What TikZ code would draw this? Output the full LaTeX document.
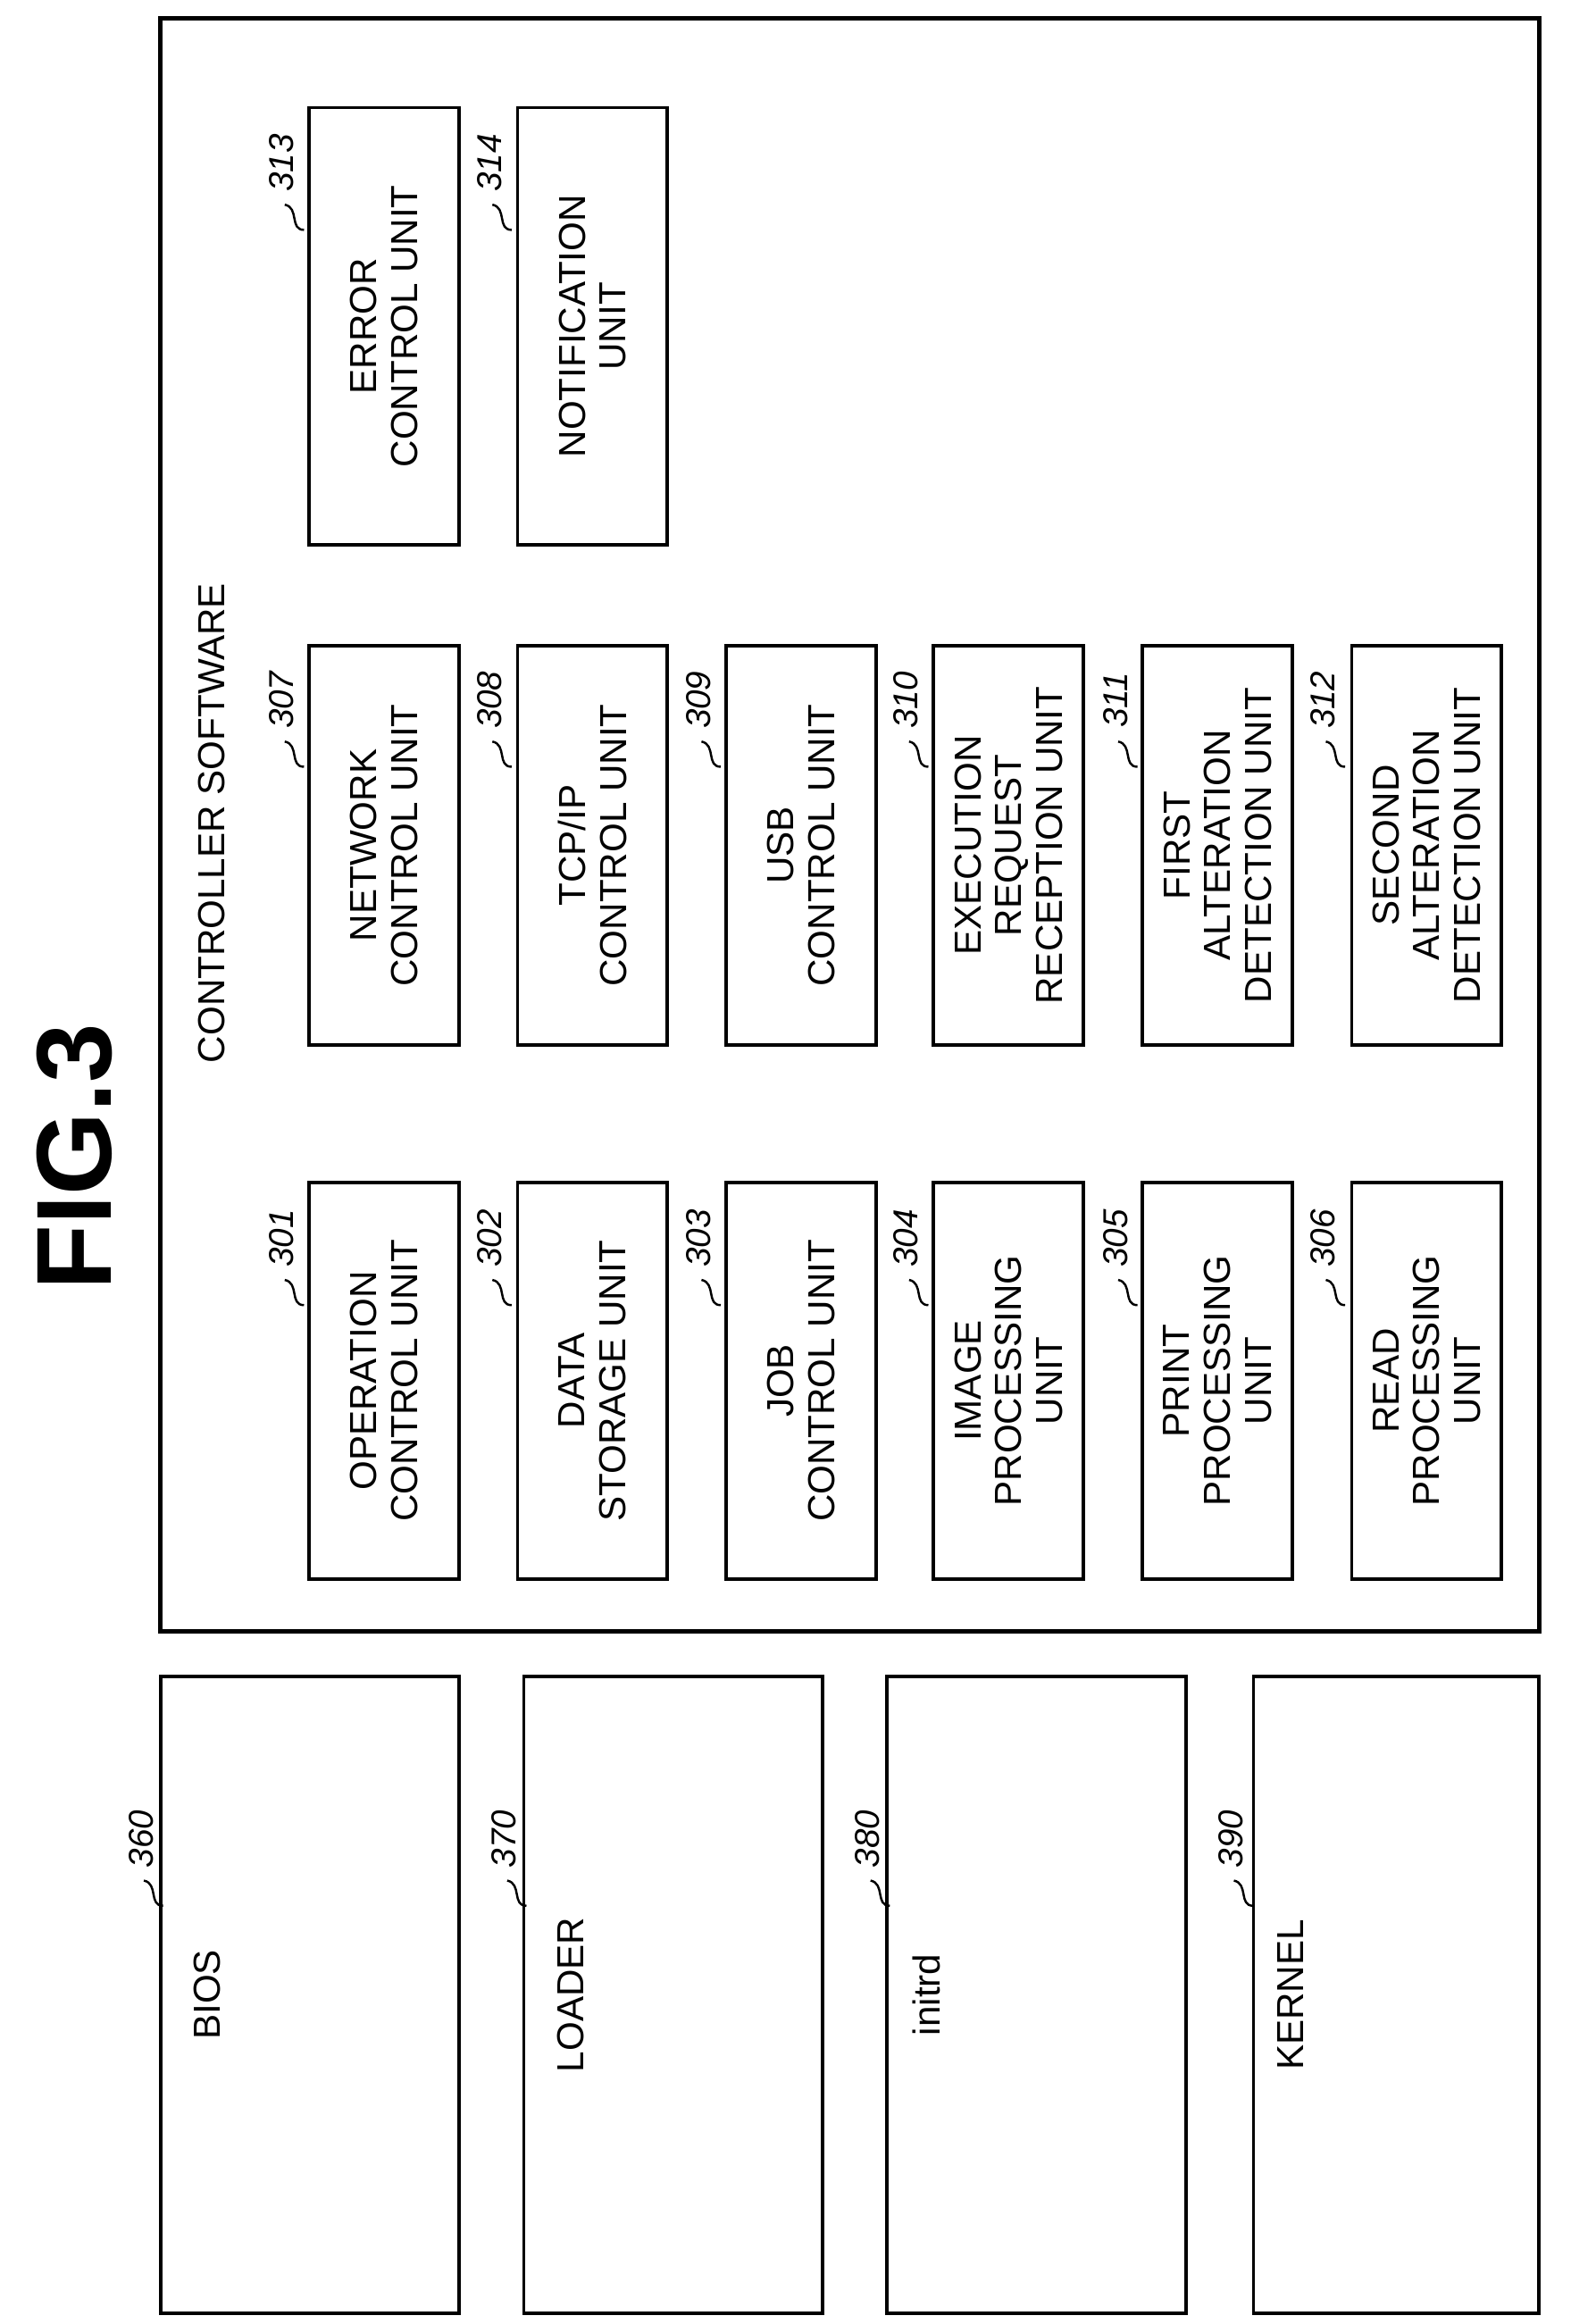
\documentclass[tikz,border=0pt]{standalone}
\usepackage{fontspec}
\setmainfont{Liberation Sans}
\usetikzlibrary{positioning}
\tikzset{
  unit/.style={draw, line width=1.1pt, rotate=90, align=center, inner sep=2pt,
    font=\fontsize{12}{13}\selectfont},
  colbox/.style={unit, minimum height=1.68cm},
  lowbox/.style={draw, line width=1.1pt, rotate=90, minimum height=3.35cm, minimum width=7.14cm},
  lowtext/.style={rotate=90, font=\fontsize{12}{13}\selectfont},
  refnum/.style={rotate=90, font=\itshape\fontsize{11}{12}\selectfont, inner sep=1pt},
}
% reference number with its little leader
\newcommand{\refnum}[3]{%
  \node[refnum] at (#1,#2) {#3};
  \draw[line width=0.7pt] (#1+15,#2+45) .. controls (#1+5,#2+45) and (#1+12,#2+30) .. (#1+2,#2+28);
}
\begin{document}
\begin{tikzpicture}[x=0.01661cm, y=-0.01661cm]
	\useasboundingbox (0,0) rectangle (1059,1567);

	\node (fig) [rotate=90, font=\bfseries\fontsize{34}{36}\selectfont] at (50,780) {FIG.3};

	% controller software
	\node (ctrl)[draw, line width=1.4pt, minimum width=15.45cm, minimum height=18.07cm] at (573,556) {};
	\node (ctrl-t)[lowtext] at (143,555) {CONTROLLER SOFTWARE};

	\node (u301)[colbox, minimum width=4.45cm] at (259,931)   {OPERATION\\CONTROL UNIT};
	\node (u302)[colbox, minimum width=4.45cm] at (399.5,931) {DATA\\STORAGE UNIT};
	\node (u303)[colbox, minimum width=4.45cm] at (540,931)   {JOB\\CONTROL UNIT};
	\node (u304)[colbox, minimum width=4.45cm] at (680,931)   {IMAGE\\PROCESSING\\UNIT};
	\node (u305)[colbox, minimum width=4.45cm] at (821,931)   {PRINT\\PROCESSING\\UNIT};
	\node (u306)[colbox, minimum width=4.45cm] at (962,931)   {READ\\PROCESSING\\UNIT};

	\node (u307)[colbox, minimum width=4.48cm] at (259,570)   {NETWORK\\CONTROL UNIT};
	\node (u308)[colbox, minimum width=4.48cm] at (399.5,570) {TCP/IP\\CONTROL UNIT};
	\node (u309)[colbox, minimum width=4.48cm] at (540,570)   {USB\\CONTROL UNIT};
	\node (u310)[colbox, minimum width=4.48cm] at (680,570)   {EXECUTION\\REQUEST\\RECEPTION UNIT};
	\node (u311)[colbox, minimum width=4.48cm] at (821,570)   {FIRST\\ALTERATION\\DETECTION UNIT};
	\node (u312)[colbox, minimum width=4.48cm] at (962,570)   {SECOND\\ALTERATION\\DETECTION UNIT};

	\node (u313)[colbox, minimum width=4.90cm] at (259,220)   {ERROR\\CONTROL UNIT};
	\node (u314)[colbox, minimum width=4.90cm] at (399.5,220) {NOTIFICATION\\UNIT};

	\refnum{190}{835}{301} \refnum{330}{835}{302} \refnum{471}{835}{303}
	\refnum{611}{835}{304} \refnum{752}{835}{305} \refnum{892}{835}{306}
	\refnum{190}{472}{307} \refnum{330}{472}{308} \refnum{471}{472}{309}
	\refnum{611}{472}{310} \refnum{752}{472}{311} \refnum{892}{472}{312}
	\refnum{190}{110}{313} \refnum{330}{110}{314}

	% boot components
	\node (bios)[lowbox] at (209,1345) {};
	\node (bios-t)[lowtext] at (140,1345) {BIOS};
	\node (loader)[lowbox] at (454,1345) {};
	\node (loader-t)[lowtext] at (385,1345) {LOADER};
	\node (initrd)[lowbox] at (699,1345) {};
	\node (initrd-t)[lowtext] at (625,1345) {initrd};
	\node (kernel)[lowbox, minimum height=3.20cm] at (941.5,1345) {};
	\node (kernel-t)[lowtext] at (870,1345) {KERNEL};

	\refnum{95}{1240}{360} \refnum{340}{1240}{370}
	\refnum{585}{1240}{380} \refnum{830}{1240}{390}
\end{tikzpicture}
\end{document}
